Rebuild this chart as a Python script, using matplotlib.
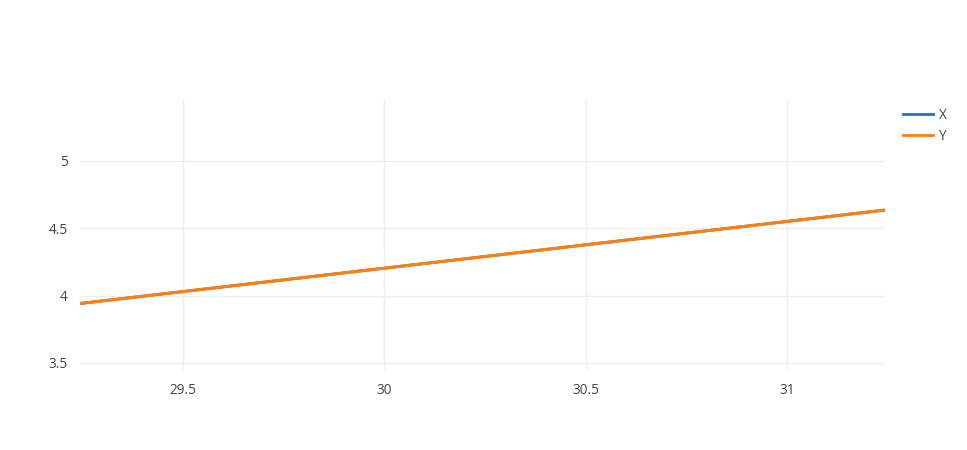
import matplotlib
matplotlib.use("Agg")
import matplotlib.pyplot as plt
from matplotlib.lines import Line2D

# line data (X sits under Y, same values)
x_vals = [29.244, 31.243]
x_series = [3.941, 4.634]
y_series = [3.941, 4.634]
xticks = [29.5, 30, 30.5, 31]
yticks = [3.5, 4, 4.5, 5]

plt.rcParams['font.family'] = ['Open Sans', 'DejaVu Sans']

fig = plt.figure(figsize=(9.67, 4.5), dpi=100)
ax = fig.add_axes([80 / 967, 80 / 450, 805 / 967, 270 / 450])

ax.plot(x_vals, x_series, color='#1f77b4', lw=2, label='X', solid_capstyle='butt')
ax.plot(x_vals, y_series, color='#ff7f0e', lw=2.2, label='Y', solid_capstyle='butt')

ax.set_xlim(29.244, 31.243)
ax.set_ylim(3.448, 5.45)
ax.set_xticks(xticks)
ax.set_xticklabels(['29.5', '30', '30.5', '31'])
ax.set_yticks(yticks)
ax.set_yticklabels(['3.5', '4', '4.5', '5'])
ax.grid(True, color='#eeeeee', lw=1)
ax.set_axisbelow(True)
for s in ax.spines.values():
    s.set_visible(False)
ax.tick_params(length=0, labelsize=9.8, colors='#444444', pad=9)

handles = [Line2D([0], [0], color='#1f77b4', lw=2),
           Line2D([0], [0], color='#ff7f0e', lw=2)]
leg = fig.legend(handles, ['X', 'Y'], loc='upper left',
                 bbox_to_anchor=(903 / 967, 1 - 108 / 450), frameon=False,
                 fontsize=9.8, handlelength=2.2, handletextpad=0.45,
                 labelspacing=0.45, borderaxespad=0, borderpad=0)
for t in leg.get_texts():
    t.set_color('#444444')

fig.savefig('out.png', dpi=100)
